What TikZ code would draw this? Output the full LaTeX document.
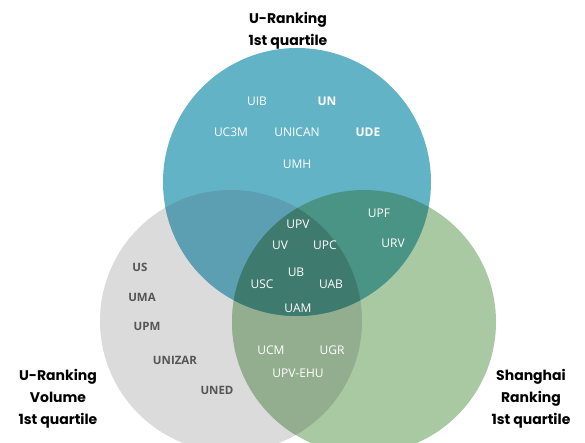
\documentclass[tikz,border=0pt]{standalone}
\usepackage{fontspec}
\setmainfont{Open Sans}
\newfontfamily\titlefont{Poppins}
\definecolor{cblue}{HTML}{62B3C6}
\definecolor{cgray}{HTML}{DBDBDB}
\definecolor{cgreen}{HTML}{A8C9A2}
\definecolor{cbg}{HTML}{5C9FB3}
\definecolor{cbgr}{HTML}{4A9486}
\definecolor{cggr}{HTML}{93AD8F}
\definecolor{call}{HTML}{3F7A6E}
\definecolor{cdark}{HTML}{555555}
\tikzset{
  lab/.style={text=white, font=\fontsize{12}{14}\selectfont, inner sep=0pt},
  glab/.style={text=cdark, font=\bfseries\fontsize{11.5}{14}\selectfont, inner sep=0pt},
  ttl/.style={text=black, font=\titlefont\bfseries\fontsize{14}{22}\selectfont, align=center, inner sep=0pt},
}
\begin{document}
\begin{tikzpicture}[x=1pt,y=-1pt]
\useasboundingbox (0,0) rectangle (585,443);
\coordinate (B) at (297,182);
\coordinate (G) at (231,321);
\coordinate (R) at (364,322);
\def\rb{134}
\def\rg{131}
\def\rr{132}
\fill[cgray] (G) circle (\rg);
\fill[cgreen] (R) circle (\rr);
\begin{scope}
  \clip (G) circle (\rg);
  \fill[cggr] (R) circle (\rr);
\end{scope}
\fill[cblue] (B) circle (\rb);
\begin{scope}
  \clip (B) circle (\rb);
  \fill[cbg] (G) circle (\rg);
  \fill[cbgr] (R) circle (\rr);
  \clip (G) circle (\rg);
  \fill[call] (R) circle (\rr);
\end{scope}
% labels
\node[lab] (uib) at (257,101) {UIB};
\node[lab,font=\bfseries\fontsize{12}{14}\selectfont] (un) at (327,101) {UN};
\node[lab] (uc3m) at (231,132) {UC3M};
\node[lab] (unican) at (297,132) {UNICAN};
\node[lab,font=\bfseries\fontsize{12}{14}\selectfont] (ude) at (368,132) {UDE};
\node[lab] (umh) at (297,164) {UMH};
\node[lab] (upv) at (298,224) {UPV};
\node[lab] (uv) at (280,245) {UV};
\node[lab] (upc) at (325,245) {UPC};
\node[lab] (upf) at (379,213) {UPF};
\node[lab] (urv) at (393,243) {URV};
\node[lab] (ub) at (296,272) {UB};
\node[lab] (usc) at (262,284) {USC};
\node[lab] (uab) at (331,284) {UAB};
\node[lab] (uam) at (298,308) {UAM};
\node[lab] (ucm) at (271,350) {UCM};
\node[lab] (ugr) at (332,350) {UGR};
\node[lab] (upvehu) at (298,373) {UPV-EHU};
\node[glab] (us) at (140,267) {US};
\node[glab] (uma) at (142,297) {UMA};
\node[glab] (upm) at (147,326) {UPM};
\node[glab] (unizar) at (175,360) {UNIZAR};
\node[glab] (uned) at (217,390) {UNED};
\node[ttl] (t1) at (288,31) {U-Ranking\\1st quartile};
\node[ttl] (t2) at (58,399) {U-Ranking\\Volume\\1st quartile};
\node[ttl] (t3) at (531,399) {Shanghai\\Ranking\\1st quartile};
\end{tikzpicture}
\end{document}
